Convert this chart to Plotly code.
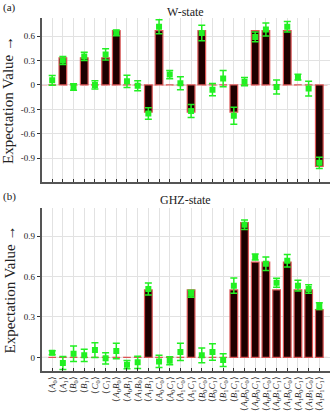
import plotly.graph_objects as go

labels = ["A0","A1","B0","B1","C0","C1","A0B0","A0B1","A1B0","A1B1","A0C0","A0C1","A1C0","A1C1",
          "B0C0","B0C1","B1C0","B1C1","A0B0C0","A0B0C1","A0B1C0","A0B1C1","A1B0C0","A1B0C1","A1B1C0","A1B1C1"]

w_theory = [0, 1/3, 0, 1/3, 0, 1/3, 2/3, 0, 0, -1/3, 2/3, 0, 0, -1/3,
            2/3, 0, 0, -1/3, 0, 2/3, 2/3, 0, 2/3, 0, 0, -1]
w_meas = [0.057, 0.30, -0.025, 0.35, 0.0, 0.375, 0.64, 0.045, -0.01, -0.35, 0.715, 0.127, 0.02, -0.32,
          0.637, -0.058, 0.078, -0.378, 0.04, 0.59, 0.68, -0.025, 0.715, 0.095, -0.045, -0.957]
w_err = [0.06, 0.05, 0.04, 0.05, 0.05, 0.07, 0.035, 0.075, 0.06, 0.07, 0.085, 0.05, 0.08, 0.08,
         0.095, 0.075, 0.1, 0.105, 0.05, 0.06, 0.08, 0.085, 0.065, 0.035, 0.09, 0.07]

g_theory = [0, 0, 0, 0, 0, 0, 0, 0, 0, 0.5, 0, 0, 0, 0.5,
            0, 0, 0, 0.5, 1.0, 0.707, 0.707, 0.5, 0.707, 0.5, 0.5, 0.354]
g_meas = [0.035, -0.042, 0.027, 0.015, 0.054, -0.007, 0.047, -0.054, -0.037, 0.507, -0.03, -0.025, 0.04, 0.472,
          0.015, 0.04, -0.02, 0.532, 0.984, 0.744, 0.695, 0.554, 0.717, 0.532, 0.507, 0.381]
g_err = [0.015, 0.048, 0.057, 0.045, 0.055, 0.042, 0.057, 0.031, 0.046, 0.044, 0.045, 0.03, 0.064, 0.026,
         0.054, 0.062, 0.047, 0.056, 0.035, 0.022, 0.05, 0.033, 0.047, 0.04, 0.032, 0.025]

w_ticks = [-0.9, -0.6, -0.3, 0, 0.3, 0.6]
g_ticks = [0, 0.3, 0.6, 0.9]


def fmt(lbl):
    s = ""
    i = 0
    while i < len(lbl):
        s += "<i>" + lbl[i] + "</i><sub>" + lbl[i + 1] + "</sub>"
        i += 2
    return "⟨" + s + "⟩"

tick_text = [fmt(l) for l in labels]
xs = list(range(len(labels)))

FONT = "Liberation Serif"
BAR_FILL = "#1e0000"
BAR_LINE = "#dc5656"
GREEN = "#22f022"

fig = go.Figure()
for k, (th, me, er) in enumerate([(w_theory, w_meas, w_err), (g_theory, g_meas, g_err)]):
    xa = "x" if k == 0 else "x2"
    ya = "y" if k == 0 else "y2"
    fig.add_trace(go.Bar(x=xs, y=th, width=0.72, marker=dict(color=BAR_FILL, line=dict(color=BAR_LINE, width=1.2)),
                         xaxis=xa, yaxis=ya, showlegend=False))
    fig.add_trace(go.Scatter(x=xs, y=me, mode="markers",
                             marker=dict(symbol="square", size=6, color=GREEN),
                             error_y=dict(type="data", array=er, color=GREEN, thickness=1.5, width=3.5),
                             xaxis=xa, yaxis=ya, showlegend=False))

W, H = 331, 416
xdom = [41.5 / W, 330 / W]
axis_common = dict(showline=True, linecolor="#555555", linewidth=1.5, mirror=False,
                   showgrid=True, gridcolor="#e2e2e2", gridwidth=1, zeroline=False,
                   tickfont=dict(family=FONT, size=9, color="#222"))

# red zero reference lines (theory value 0)
shapes = [
    dict(type="line", xref="x", yref="y", x0=-1, x1=26, y0=0, y1=0, layer="below",
         line=dict(color="#e88a8a", width=1, dash="6px,4px")),
    dict(type="line", xref="x2", yref="y2", x0=-1, x1=26, y0=0, y1=0, layer="below",
         line=dict(color="#e88a8a", width=1, dash="6px,4px")),
]

fig.update_layout(
    width=W, height=H, margin=dict(l=0, r=0, t=0, b=0),
    paper_bgcolor="white", plot_bgcolor="white", bargap=0.28,
    font=dict(family=FONT, color="#222"),
    shapes=shapes,
    xaxis=dict(domain=xdom, anchor="y", range=[-1, 26], tickmode="array", tickvals=xs,
               showticklabels=False, ticks="inside", ticklen=3, tickcolor="#333", tickwidth=1,
               automargin=False, **axis_common),
    yaxis=dict(domain=[1 - 182 / H, 1 - 18 / H], anchor="x", range=[-1.192, 0.822],
               tickmode="array", tickvals=w_ticks, ticktext=["-0.9", "-0.6", "-0.3", "0", "0.3", "0.6"],
               ticks="outside", ticklen=3, tickcolor="#333", automargin=False,
               title=dict(text="Expectation Value →", font=dict(family=FONT, size=15), standoff=4),
               **axis_common),
    xaxis2=dict(domain=xdom, anchor="y2", range=[-1, 26], tickmode="array", tickvals=xs,
                ticktext=tick_text, tickangle=-90, ticks="inside", ticklen=3, tickcolor="#333",
                automargin=False, **axis_common),
    yaxis2=dict(domain=[1 - 371 / H, 1 - 208 / H], anchor="x2", range=[-0.101, 1.108],
                tickmode="array", tickvals=g_ticks, ticktext=["0", "0.3", "0.6", "0.9"],
                ticks="outside", ticklen=3, tickcolor="#333", automargin=False,
                title=dict(text="Expectation Value →", font=dict(family=FONT, size=15), standoff=4),
                **axis_common),
    annotations=[
        dict(text="W-state", x=(xdom[0] + xdom[1]) / 2, y=1 - 12 / H, xref="paper", yref="paper",
             showarrow=False, font=dict(family=FONT, size=12, color="#222"), xanchor="center", yanchor="middle"),
        dict(text="GHZ-state", x=(xdom[0] + xdom[1]) / 2, y=1 - 200 / H, xref="paper", yref="paper",
             showarrow=False, font=dict(family=FONT, size=12, color="#222"), xanchor="center", yanchor="middle"),
        dict(text="(a)", x=1 / W, y=1 - 7 / H, xref="paper", yref="paper", showarrow=False,
             font=dict(family=FONT, size=11, color="#222"), xanchor="left", yanchor="middle"),
        dict(text="(b)", x=1 / W, y=1 - 196 / H, xref="paper", yref="paper", showarrow=False,
             font=dict(family=FONT, size=11, color="#222"), xanchor="left", yanchor="middle"),
    ],
)

fig.write_html("out.html", config={"displayModeBar": False},
               post_script="document.body.style.margin='0px';document.body.style.overflow='hidden';")
